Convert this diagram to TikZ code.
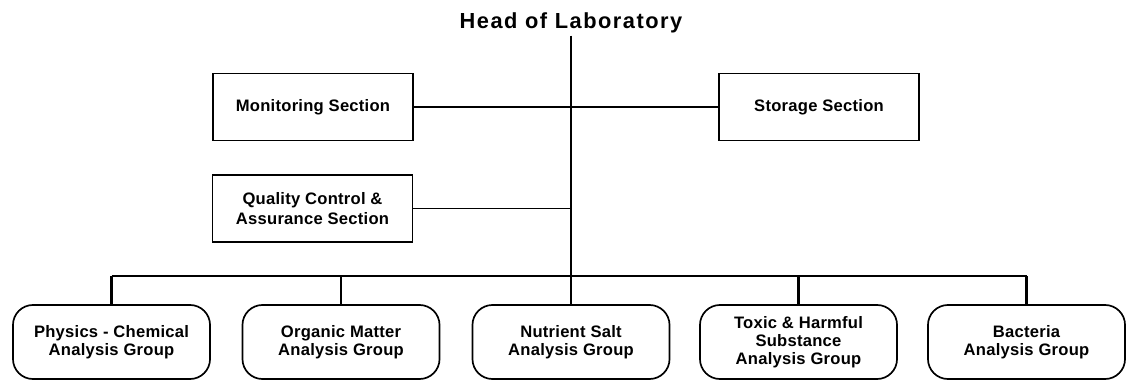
\documentclass[tikz,border=0pt]{standalone}
\usepackage{fontspec}
\setmainfont{Liberation Sans}
\begin{document}
\begin{tikzpicture}[x=0.025cm, y=-0.025cm,
    section/.style={draw, line width=1.2pt, minimum width=5cm, minimum height=1.68cm, align=center, font=\bfseries\fontsize{11.8}{14}\selectfont\addfontfeature{LetterSpace=1.5}},
    group/.style={draw, line width=1.2pt, rounded corners=0.5cm, minimum width=4.925cm, minimum height=1.85cm, align=center, font=\bfseries\fontsize{11.8}{13}\selectfont\addfontfeature{LetterSpace=1.5}},
    link/.style={line width=0.8pt},
    stem/.style={line width=1.6pt}]
    \useasboundingbox (0,0) rectangle (1129,382);

    % Jefe del laboratorio
    \node[font=\bfseries\fontsize{15.5}{18}\selectfont\addfontfeature{LetterSpace=7}, inner sep=1.5pt] (head) at (571,23) {Head of Laboratory};

    % Secciones
    \node[section] (mon) at (313,107) {Monitoring Section};
    \node[section] (stor) at (819,107) {Storage Section};
    \node[section] (qc) at (312.5,208.5) {Quality Control \&\\Assurance Section};

    % Grupos de analisis
    \node[group] (phys) at (111.5,342) {Physics - Chemical\\Analysis Group};
    \node[group] (org) at (341,342) {Organic Matter\\Analysis Group};
    \node[group] (nutr) at (571,342) {Nutrient Salt\\Analysis Group};
    \node[group] (tox) at (798.5,342) {Toxic \& Harmful\\Substance\\Analysis Group};
    \node[group] (bact) at (1026.5,342) {Bacteria\\Analysis Group};

    % Linea principal
    \draw[stem] (head.south) -- (nutr.north);
    \coordinate (bus) at (571,276);

    % Conexiones de las secciones
    \draw[link] (mon.east) -- (stor.west);
    \draw[link] (qc.east) -- (qc.east -| head.south);

    % Barra horizontal y bajadas
    \draw[link] (bus -| phys.north) -- (bus -| bact.north);
    \draw[stem] (bus -| phys.north) -- (phys.north);
    \draw[stem] (bus -| org.north) -- (org.north);
    \draw[stem] (bus -| tox.north) -- (tox.north);
    \draw[stem] (bus -| bact.north) -- (bact.north);
\end{tikzpicture}
\end{document}
